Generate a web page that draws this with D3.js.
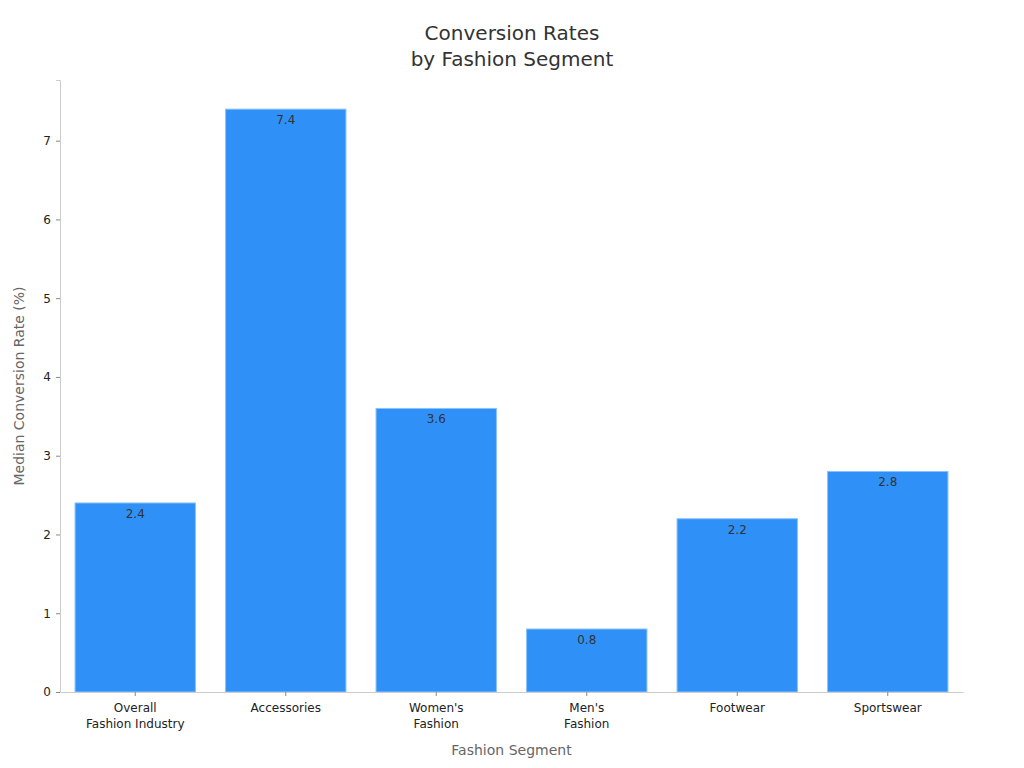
<!DOCTYPE html>
<html>
<head>
<meta charset="utf-8">
<script src="https://cdn.jsdelivr.net/npm/d3@7"></script>
<style>
  body { margin: 0; background: #fff; }
  svg, svg text { font-family: "DejaVu Sans", sans-serif; }
</style>
</head>
<body>
<svg id="chart" width="1024" height="768"></svg>
<script>
// chart data
var segments = [["Overall", "Fashion Industry"], ["Accessories"], ["Women's", "Fashion"], ["Men's", "Fashion"], ["Footwear"], ["Sportswear"]];
var rates = [2.4, 7.4, 3.6, 0.8, 2.2, 2.8];
var yTicks = [0, 1, 2, 3, 4, 5, 6, 7];

var margin = {top: 80, right: 61, bottom: 76, left: 60};
var width = 1024, height = 768;

var svg = d3.select('#chart');

var keys = segments.map(function(d) { return d.join(' '); });

var x = d3.scaleBand()
  .domain(keys)
  .range([margin.left, width - margin.right])
  .paddingInner(0.2)
  .paddingOuter(0.1);

var y = d3.scaleLinear()
  .domain([0, d3.max(rates) * 1.05])
  .range([height - margin.bottom, margin.top]);

// bars
svg.append('g')
  .selectAll('rect')
  .data(rates)
  .enter().append('rect')
  .attr('x', function(d, i) { return x(keys[i]); })
  .attr('y', function(d) { return y(d); })
  .attr('width', x.bandwidth())
  .attr('height', function(d) { return y(0) - y(d); })
  .style('fill', '#2f91f7')
  .style('stroke', '#8cc2fa')
  .style('stroke-width', 1);

// value labels just inside the top of each bar
svg.append('g')
  .selectAll('text')
  .data(rates)
  .enter().append('text')
  .attr('x', function(d, i) { return x(keys[i]) + x.bandwidth() / 2; })
  .attr('y', function(d) { return y(d) + 15; })
  .attr('text-anchor', 'middle')
  .style('font-size', '12px')
  .style('fill', '#333')
  .text(function(d) { return d.toFixed(1); });

// y axis
var yAxis = svg.append('g')
  .attr('transform', 'translate(' + margin.left + ',0)')
  .call(d3.axisLeft(y).tickValues(yTicks).tickSize(4).tickPadding(5).tickFormat(d3.format('d')))
  .attr('font-family', null);
yAxis.select('.domain').style('stroke', '#ccc');
yAxis.selectAll('.tick line').style('stroke', '#888');
yAxis.selectAll('.tick text').style('font-size', '12px').style('fill', '#222');

// x axis
var xAxis = svg.append('g')
  .attr('transform', 'translate(0,' + y(0) + ')')
  .call(d3.axisBottom(x).tickSize(4).tickPadding(6).tickSizeOuter(0))
  .attr('font-family', null);
xAxis.select('.domain').style('stroke', '#ccc');
xAxis.selectAll('.tick line').style('stroke', '#888');
xAxis.selectAll('.tick text').remove();
xAxis.selectAll('.tick').each(function(d, i) {
  var t = d3.select(this).append('text')
    .attr('y', 20)
    .attr('text-anchor', 'middle')
    .style('font-size', '12px')
    .style('fill', '#222');
  segments[i].forEach(function(line, j) {
    t.append('tspan').attr('x', 0).attr('dy', j === 0 ? 0 : 16).text(line);
  });
});

// title
var title = svg.append('text')
  .attr('x', width / 2)
  .attr('y', 40)
  .attr('text-anchor', 'middle')
  .style('font-size', '20px')
  .style('fill', '#333');
title.append('tspan').attr('x', width / 2).text('Conversion Rates');
title.append('tspan').attr('x', width / 2).attr('dy', 26).text('by Fashion Segment');

// axis titles
svg.append('text')
  .attr('x', (margin.left + width - margin.right) / 2)
  .attr('y', 755)
  .attr('text-anchor', 'middle')
  .style('font-size', '14px')
  .style('fill', '#666')
  .text('Fashion Segment');

svg.append('text')
  .attr('transform', 'translate(24,' + (y(0) + margin.top) / 2 + ') rotate(-90)')
  .attr('text-anchor', 'middle')
  .style('font-size', '14px')
  .style('fill', '#666')
  .text('Median Conversion Rate (%)');
</script>
</body>
</html>
